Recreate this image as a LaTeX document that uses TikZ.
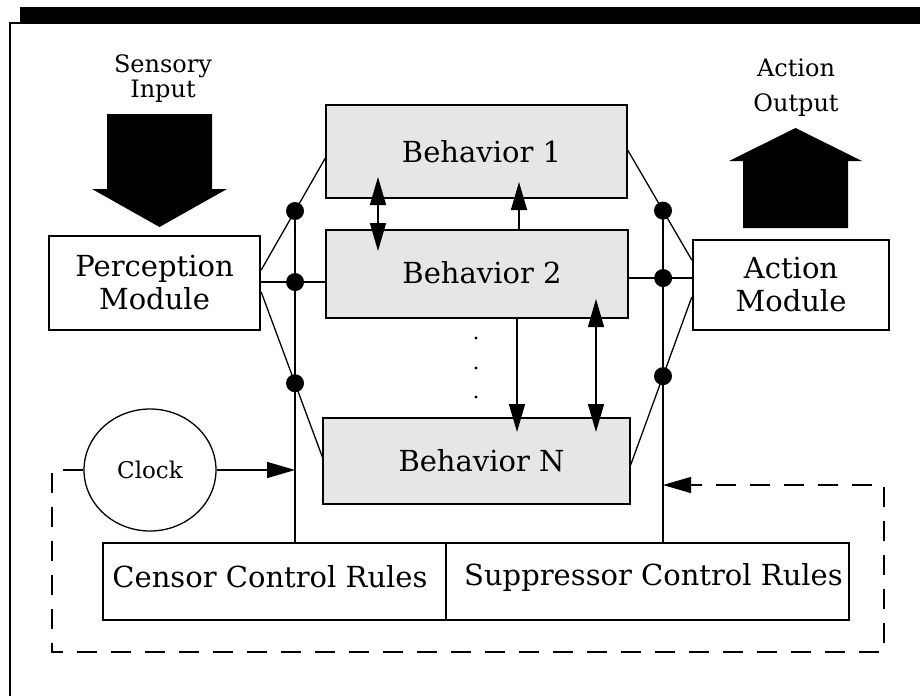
\documentclass[tikz,border=0pt]{standalone}
\usepackage{fontspec}
\setmainfont{DejaVu Serif}
\usetikzlibrary{arrows.meta,shapes.geometric,calc}
\definecolor{bfill}{HTML}{E6E6E6}
\newcommand{\mainsz}{\fontsize{29}{33}\selectfont}
\newcommand{\clksz}{\fontsize{23}{26}\selectfont}
\begin{document}
\begin{tikzpicture}[x=1pt,y=-1pt,
  >={Triangle[length=28pt,width=16pt]},
  mbox/.style={draw,line width=2.4pt,fill=white,inner sep=0pt,align=center,font=\mainsz},
  bhv/.style={draw,line width=1.3pt,fill=bfill,inner sep=0pt,align=center,font=\mainsz},
  conn/.style={line width=1.3pt},
  arr/.style={line width=1.5pt},
  dot/.style={circle,fill=black,inner sep=0pt,minimum size=18pt},
  lab/.style={align=center,inner sep=0pt},
  dsh/.style={line width=1.2pt,dash pattern=on 20pt off 14pt}]
\useasboundingbox (0,0) rectangle (920,696);
\fill[white] (0,0) rectangle (920,696);
% page frame
\fill[black] (20,7) rectangle (920,24);
\draw[line width=2.4pt] (20,23) -- (10,23) -- (10,696);
% top labels and block arrows
\node[lab,font=\fontsize{24}{25}\selectfont] (sens) at (163,79) {Sensory\\Input};
\fill[black] (107,114) -- (212,114) -- (212,189) -- (227,189) -- (159.5,227) -- (92,189) -- (107,189) -- cycle;
\node[lab,font=\fontsize{24}{35}\selectfont] (act) at (796,88) {Action\\Output};
\fill[black] (743,228) -- (848,228) -- (848,161) -- (862,161) -- (795.5,128) -- (729,161) -- (743,161) -- cycle;
% boxes
\node[mbox,minimum width=211pt,minimum height=94pt] (per) at (154.5,283) {Perception\\Module};
\node[mbox,minimum width=196pt,minimum height=90pt] (actm) at (791,285) {Action\\Module};
\node[bhv,minimum width=301pt,minimum height=93pt] (b1) at (476.5,151.5) {\hspace*{10pt}Behavior 1};
\node[bhv,minimum width=302pt,minimum height=88pt] (b2) at (477,274) {\hspace*{10pt}\raisebox{4pt}{Behavior 2}};
\node[bhv,minimum width=307pt,minimum height=86pt] (bn) at (476.5,461) {\hspace*{10pt}Behavior N};
\node[draw,line width=2.4pt,minimum width=746pt,minimum height=77pt,inner sep=0pt] (rules) at (476,581.5) {};
\node[font=\mainsz,inner sep=0pt] (cen) at (270,577) {Censor Control Rules};
\node[font=\mainsz,inner sep=0pt] (sup) at (653.5,577) {Suppressor Control Rules};
\draw[conn] (rules.north -| 446,0) -- (rules.south -| 446,0);
\node[ellipse,draw,line width=1.3pt,minimum width=132pt,minimum height=122pt,inner sep=0pt,font=\clksz] (clk) at (150,470) {Clock};
% helper coordinates
\coordinate (vlt) at (295,0); \coordinate (vlb) at (295,700);
\coordinate (vrt) at (663,0); \coordinate (vrb) at (663,700);
\coordinate (pu) at (per.east |- 0,270);
\coordinate (pd) at (per.east |- 0,292);
\coordinate (pm) at (per.east |- 0,282);
\coordinate (b1l) at (b1.west |- 0,158);
\coordinate (b2l) at (b2.west |- 0,282);
\coordinate (bnl) at (bn.west |- 0,457);
\coordinate (b1r) at (b1.east |- 0,150);
\coordinate (b2r) at (b2.east |- 0,278);
\coordinate (bnr) at (bn.east |- 0,465);
\coordinate (au) at (actm.west |- 0,260);
\coordinate (am) at (actm.west |- 0,278);
\coordinate (ad) at (actm.west |- 0,297);
\coordinate (dl1) at (intersection of pu--b1l and vlt--vlb);
\coordinate (dl2) at (intersection of pm--b2l and vlt--vlb);
\coordinate (dl3) at (intersection of pd--bnl and vlt--vlb);
\coordinate (dr1) at (intersection of b1r--au and vrt--vrb);
\coordinate (dr2) at (intersection of b2r--am and vrt--vrb);
\coordinate (dr3) at (intersection of bnr--ad and vrt--vrb);
% connectors
\draw[conn] (pu) -- (b1l);
\draw[conn] (pm) -- (b2l);
\draw[conn] (pd) -- (bnl);
\draw[conn] (b1r) -- (au);
\draw[conn] (b2r) -- (am);
\draw[conn] (bnr) -- (ad);
\draw[conn] (dl1) -- (rules.north -| dl1);
\draw[conn] (dr1) -- (rules.north -| dr1);
\foreach \d in {dl1,dl2,dl3,dr1,dr2,dr3} \node[dot] at (\d) {};
% behavior arrows
\coordinate (a1t) at (378,177); \coordinate (a1b) at (378,251);
\draw[arr,<->] (a1t) -- (a1b);
\coordinate (a2t) at (519,182);
\draw[arr,->] (b2.north -| a2t) -- (a2t);
\coordinate (a3b) at (517,432);
\draw[arr,->] (b2.south -| a3b) -- (a3b);
\coordinate (a4t) at (596,299); \coordinate (a4b) at (596,432);
\draw[arr,<->] (a4t) -- (a4b);
\foreach \y in {338,368,397} \fill (476,\y) circle (1.6pt);
% clock and feedback
\coordinate (ck) at (dl1 |- clk.east);
\draw[arr,->] (clk.east) -- (ck);
\coordinate (fb) at (663,485);
\draw[dsh,->] (clk.west) -- (52,470) -- (52,652) -- (884,652) -- (884,485) -- (fb);
\end{tikzpicture}
\end{document}
